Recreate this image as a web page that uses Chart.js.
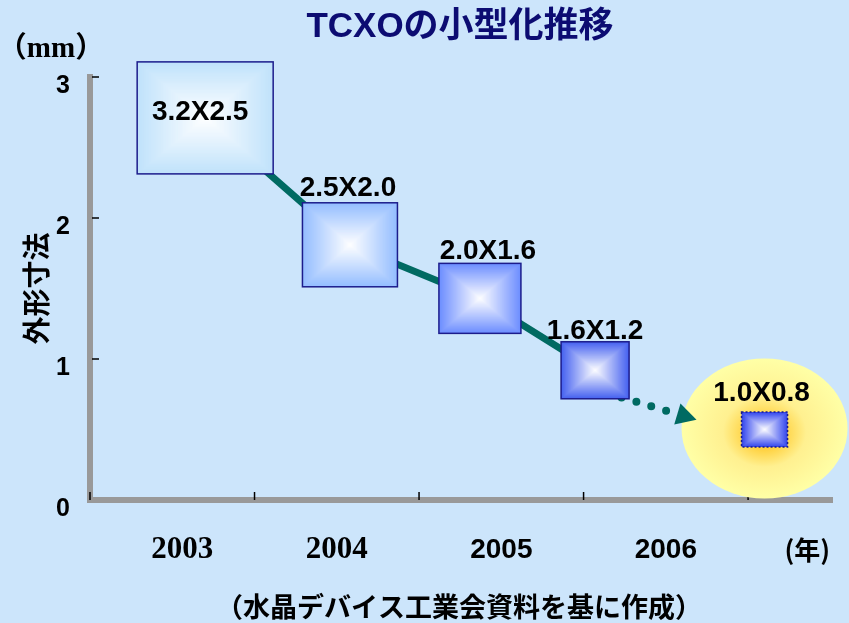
<!DOCTYPE html>
<html>
<head>
<meta charset="utf-8">
<title>TCXOの小型化推移</title>
<script src="https://cdn.jsdelivr.net/npm/chart.js@4"></script>
<style>
  html, body { margin: 0; padding: 0; background: #cce5fb; }
  canvas { display: block; }
</style>
</head>
<body>
<canvas id="sizeChart" width="849" height="623"></canvas>
<script>
// data
const years = ['2003', '2004', '2005', '2006'];
const yearPos = [0.56, 1.5, 2.5, 3.5];
const unitLabel = '(年)';
const unitPos = 4.36;
const yTicks = [0, 1, 2, 3];
const xMarks = [0, 1, 2, 3, 4];
const sizeLabels = ['3.2X2.5', '2.5X2.0', '2.0X1.6', '1.6X1.2', '1.0X0.8'];
const sizeX = [0.70, 1.58, 2.37, 3.07, 4.10];
const sizeY = [2.71, 1.81, 1.43, 0.92, 0.50];
const arrowX = [3.05, 3.57];
const arrowY = [0.79, 0.61];

// styles
const bg = '#cce5fb';
const teal = '#006a62';
const boxW = [136, 95, 82, 68, 46];
const boxH = [112, 84, 70, 57, 35];
const boxEdge = [[192, 226, 251], [148, 189, 255], [109, 142, 255], [70, 98, 240], [52, 71, 238]];
const labelDx = [-5, -2, 8, 0, -3];
const labelGap = [0, 7, 4, 3, 11];

function drawBox(ctx, cx, cy, w, h, edge, dotted) {
    const steps = 40;
    for (let k = 0; k < steps; k++) {
        const f = k / steps;
        const c = edge.map(function (e) { return Math.round(e + (255 - e) * f); });
        const iw = w * (1 - f), ih = h * (1 - f);
        ctx.fillStyle = 'rgb(' + c.join(',') + ')';
        ctx.fillRect(cx - iw / 2, cy - ih / 2, iw, ih);
    }
    ctx.strokeStyle = '#1c1c8c';
    ctx.lineWidth = 1.5;
    if (dotted) ctx.setLineDash([2, 2]);
    ctx.strokeRect(cx - w / 2, cy - h / 2, w, h);
    ctx.setLineDash([]);
}

const decor = {
    id: 'decor',
    beforeDraw(chart) {
        const ctx = chart.ctx;
        ctx.save();
        ctx.fillStyle = bg;
        ctx.fillRect(0, 0, chart.width, chart.height);
        ctx.restore();
    },
    beforeDatasetsDraw(chart) {
        const ctx = chart.ctx;
        const xs = chart.scales.x, ys = chart.scales.y;
        ctx.save();
        // tick marks inside the axes
        ctx.strokeStyle = '#000';
        ctx.lineWidth = 1.5;
        yTicks.forEach(function (v) {
            if (v === 0) return;
            const y = ys.getPixelForValue(v);
            ctx.beginPath();
            ctx.moveTo(xs.left + 2, y);
            ctx.lineTo(xs.left + 9, y);
            ctx.stroke();
        });
        xMarks.forEach(function (v) {
            const x = xs.getPixelForValue(v);
            ctx.beginPath();
            ctx.moveTo(x, ys.bottom - 8);
            ctx.lineTo(x, ys.bottom);
            ctx.stroke();
        });
        // yellow halo round the last size
        const last = chart.getDatasetMeta(2).data[sizeX.length - 1];
        const rx = 83, ry = 70;
        ctx.translate(last.x, last.y - 1);
        ctx.scale(1, ry / rx);
        const g = ctx.createRadialGradient(0, 8, 0, 0, 0, rx);
        g.addColorStop(0, '#ffbf10');
        g.addColorStop(0.2, '#ffcf3a');
        g.addColorStop(0.5, '#fff090');
        g.addColorStop(1, '#ffffa6');
        ctx.beginPath();
        ctx.arc(0, 0, rx, 0, Math.PI * 2);
        ctx.fillStyle = g;
        ctx.fill();
        ctx.restore();
    },
    afterDatasetsDraw(chart) {
        const ctx = chart.ctx;
        ctx.save();
        // arrow head beyond the dotted line
        const am = chart.getDatasetMeta(1).data;
        const p0 = am[0], p1 = am[am.length - 1];
        const dx = p1.x - p0.x, dy = p1.y - p0.y;
        const len = Math.sqrt(dx * dx + dy * dy);
        const ux = dx / len, uy = dy / len;
        const tx = p1.x + ux * 20, ty = p1.y + uy * 20;
        ctx.beginPath();
        ctx.moveTo(tx, ty);
        ctx.lineTo(p1.x - uy * 11, p1.y + ux * 11);
        ctx.lineTo(p1.x + uy * 11, p1.y - ux * 11);
        ctx.closePath();
        ctx.fillStyle = teal;
        ctx.fill();
        // size boxes and their labels
        const pts = chart.getDatasetMeta(2).data;
        pts.forEach(function (pt, i) {
            drawBox(ctx, pt.x, pt.y, boxW[i], boxH[i], boxEdge[i], i === pts.length - 1);
            ctx.fillStyle = '#000';
            ctx.font = 'bold 28px "Liberation Sans", Arial, sans-serif';
            ctx.textAlign = 'center';
            ctx.textBaseline = 'alphabetic';
            const ly = i === 0 ? pt.y + 2 : pt.y - boxH[i] / 2 - labelGap[i];
            ctx.fillText(sizeLabels[i], pt.x + labelDx[i], ly);
        });
        ctx.restore();
    },
    afterDraw(chart) {
        const ctx = chart.ctx;
        ctx.save();
        ctx.textAlign = 'center';
        ctx.textBaseline = 'middle';
        ctx.fillStyle = '#0c0c72';
        ctx.font = 'bold 35px "Liberation Sans", "Noto Sans CJK JP", sans-serif';
        ctx.fillText('TCXOの小型化推移', 460, 27);
        ctx.fillStyle = '#000';
        ctx.font = 'bold 29px "Liberation Serif", "Noto Sans CJK JP", serif';
        ctx.fillText('（mm）', 51, 50);
        ctx.font = 'bold 27px "Noto Sans CJK JP", sans-serif';
        ctx.fillText('（水晶デバイス工業会資料を基に作成）', 459, 607);
        ctx.restore();
    }
};

const xLabels = years.concat([unitLabel]);
const xLabelPos = yearPos.concat([unitPos]);

new Chart(document.getElementById('sizeChart'), {
    type: 'line',
    data: {
        datasets: [{
            label: 'trend',
            data: sizeX.slice(0, 4).map(function (x, i) { return { x: x, y: sizeY[i] }; }),
            borderColor: teal,
            borderWidth: 7,
            pointRadius: 0,
            tension: 0
        }, {
            label: 'forecast',
            data: arrowX.map(function (x, i) { return { x: x, y: arrowY[i] }; }),
            borderColor: teal,
            borderWidth: 8,
            borderDash: [0, 15.5],
            borderCapStyle: 'round',
            pointRadius: 0
        }, {
            label: 'sizes',
            data: sizeX.map(function (x, i) { return { x: x, y: sizeY[i] }; }),
            showLine: false,
            pointRadius: 0
        }]
    },
    options: {
        responsive: false,
        animation: false,
        devicePixelRatio: 1,
        layout: { padding: { top: 77, right: 17, left: 0, bottom: 0 } },
        plugins: {
            legend: { display: false },
            tooltip: { enabled: false }
        },
        scales: {
            x: {
                type: 'linear',
                min: 0,
                max: 4.51,
                grid: { display: false },
                border: { color: '#999999', width: 6 },
                afterFit: function (scale) {
                    scale.height = 123;
                    scale.paddingLeft = 0;
                    scale.paddingRight = 0;
                },
                afterBuildTicks: function (scale) {
                    scale.ticks = xLabelPos.map(function (v) { return { value: v }; });
                },
                ticks: {
                    autoSkip: false,
                    maxRotation: 0,
                    padding: 24,
                    color: '#000',
                    callback: function (v, i) { return xLabels[i]; },
                    font: function (c) {
                        if (c.index < 2) return { family: '"Liberation Serif", serif', size: 31, weight: 'bold', lineHeight: '36px' };
                        if (c.index < 4) return { family: '"Liberation Sans", Arial, sans-serif', size: 28, weight: 'bold', lineHeight: '36px' };
                        return { family: '"Noto Sans CJK JP", sans-serif', size: 26, weight: 'bold', lineHeight: '36px' };
                    }
                }
            },
            y: {
                min: 0,
                max: 3,
                grid: { display: false },
                border: { color: '#999999', width: 6 },
                afterFit: function (scale) { scale.width = 90; },
                afterBuildTicks: function (scale) {
                    scale.ticks = yTicks.map(function (v) { return { value: v }; });
                },
                ticks: {
                    padding: 12,
                    labelOffset: 9,
                    color: '#000',
                    font: { family: '"Liberation Sans", Arial, sans-serif', size: 25, weight: 'bold' }
                },
                title: {
                    display: true,
                    text: '外形寸法',
                    color: '#000',
                    padding: { top: 20, bottom: 0 },
                    font: { family: '"Noto Sans CJK JP", sans-serif', size: 28, weight: 'bold' }
                }
            }
        }
    },
    plugins: [decor]
});
</script>
</body>
</html>
